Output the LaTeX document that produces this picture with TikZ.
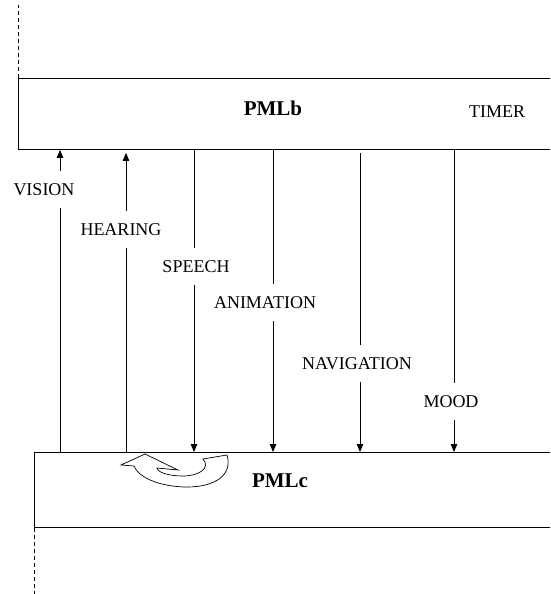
\documentclass[tikz,border=0pt]{standalone}
\usepackage{fontspec}
\setmainfont{Liberation Serif}
\usetikzlibrary{arrows.meta}

\begin{document}
\begin{tikzpicture}[x=1pt, y=-1pt, line width=0.9pt,
    >={Triangle[length=8pt,width=6.5pt]},
    layer/.style={draw,rectangle,anchor=north west,minimum width=580pt,inner sep=0pt},
    lbl/.style={fill=white,font=\fontsize{18}{20}\selectfont,text height=12pt,text depth=0pt,
                inner xsep=3pt,inner ysep=12.5pt},
    ttl/.style={font=\fontsize{21}{24}\selectfont\bfseries},
    lifeline/.style={dashed,dash pattern=on 4pt off 3pt,line width=0.7pt}]
    \useasboundingbox (0,0) rectangle (550,594);
    \clip (0,0) rectangle (550,594);
    % the two layers
    \node[layer,minimum height=71pt] (pmlb) at (18,78) {};
    \node[layer,minimum height=75pt] (pmlc) at (34,452) {};
    \node[ttl] (tb) at (273,108) {PMLb};
    \node[ttl] (tc) at (280,481) {PMLc};
    \node[font=\fontsize{18}{20}\selectfont] (timer) at (497,112) {TIMER};
    \coordinate (up1) at (19,5);
    \coordinate (dn1) at (34,594);
    \draw[lifeline] (pmlb.north west) -- (pmlb.north west|-up1);
    \draw[lifeline] (pmlc.south west) -- (dn1);
    % channels
    \coordinate (vis) at (60,0);
    \coordinate (hea) at (126,0);
    \coordinate (spe) at (194,0);
    \coordinate (ani) at (273,0);
    \coordinate (nav) at (360,0);
    \coordinate (moo) at (454,0);
    \draw[->] (vis|-pmlc.north) -- (vis|-pmlb.south);
    \draw[->,shorten >=3pt] (hea|-pmlc.north) -- (hea|-pmlb.south);
    \foreach \c in {spe,ani,moo} \draw[->] (\c|-pmlb.south) -- (\c|-pmlc.north);
    \draw[->,shorten <=3pt] (nav|-pmlb.south) -- (nav|-pmlc.north);
    \node[lbl] (lvis) at (44,189) {VISION};
    \node[lbl] (lhea) at (121,229) {HEARING};
    \node[lbl] (lspe) at (196,266) {SPEECH};
    \node[lbl] (lani) at (265,302) {ANIMATION};
    \node[lbl] (lnav) at (357,363) {NAVIGATION};
    \node[lbl] (lmoo) at (451,401) {MOOD};
    % loop back arrow inside PMLc
    \draw[fill=white,line width=0.7pt] (145,454) -- (121,465) -- (134,466)
      .. controls (140,480) and (165,487) .. (187,487)
      .. controls (215,487) and (233,475) .. (227,455) -- (203,459)
      .. controls (211,468) and (199,476) .. (183,476)
      .. controls (170,476) and (158,473) .. (157,468)
      -- (178,470) -- cycle;
\end{tikzpicture}
\end{document}
